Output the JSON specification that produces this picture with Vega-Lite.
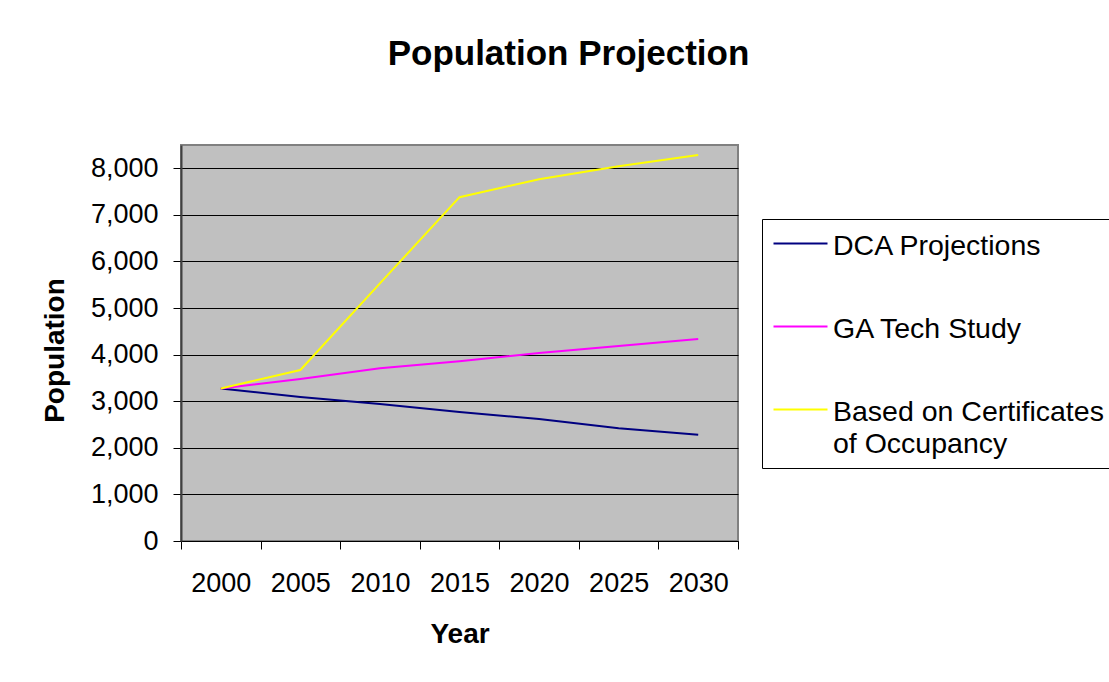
{
  "$schema": "https://vega.github.io/schema/vega-lite/v6.json",
  "width": 557,
  "height": 396,
  "autosize": {"type": "none"},
  "padding": {"left": 181, "top": 145, "right": 371, "bottom": 141},
  "background": "white",
  "title": {"text": "Population Projection", "fontSize": 35, "font": "Liberation Sans", "fontWeight": "bold", "anchor": "middle", "dx": 109, "baseline": "alphabetic", "offset": 45, "color": "black"},
  "data": {"values": [
    {"Year": 2000, "Series": "DCA Projections", "Population": 3275},
    {"Year": 2005, "Series": "DCA Projections", "Population": 3090},
    {"Year": 2010, "Series": "DCA Projections", "Population": 2940},
    {"Year": 2015, "Series": "DCA Projections", "Population": 2770},
    {"Year": 2020, "Series": "DCA Projections", "Population": 2620},
    {"Year": 2025, "Series": "DCA Projections", "Population": 2420},
    {"Year": 2030, "Series": "DCA Projections", "Population": 2280},
    {"Year": 2000, "Series": "GA Tech Study", "Population": 3275},
    {"Year": 2005, "Series": "GA Tech Study", "Population": 3475},
    {"Year": 2010, "Series": "GA Tech Study", "Population": 3710},
    {"Year": 2015, "Series": "GA Tech Study", "Population": 3860},
    {"Year": 2020, "Series": "GA Tech Study", "Population": 4035},
    {"Year": 2025, "Series": "GA Tech Study", "Population": 4185},
    {"Year": 2030, "Series": "GA Tech Study", "Population": 4335},
    {"Year": 2000, "Series": "Based on Certificates of Occupancy", "Population": 3275},
    {"Year": 2005, "Series": "Based on Certificates of Occupancy", "Population": 3670},
    {"Year": 2010, "Series": "Based on Certificates of Occupancy", "Population": 5530},
    {"Year": 2015, "Series": "Based on Certificates of Occupancy", "Population": 7380},
    {"Year": 2020, "Series": "Based on Certificates of Occupancy", "Population": 7765},
    {"Year": 2025, "Series": "Based on Certificates of Occupancy", "Population": 8045},
    {"Year": 2030, "Series": "Based on Certificates of Occupancy", "Population": 8285}
  ]},
  "mark": {"type": "line", "strokeWidth": 2},
  "encoding": {
    "x": {
      "field": "Year", "type": "ordinal",
      "scale": {"type": "band", "paddingInner": 0, "paddingOuter": 0},
      "bandPosition": 0.5,
      "axis": {
        "title": "Year", "tickBand": "extent", "tickSize": 8, "tickColor": "black", "domainColor": "black", "domainWidth": 1,
        "labelFontSize": 27, "labelFont": "Liberation Sans", "labelColor": "black", "labelAngle": 0, "labelPadding": 21,
        "titleFont": "Liberation Sans", "titleFontSize": 28, "titleFontWeight": "bold", "titleColor": "black", "titlePadding": 24,
        "grid": false
      }
    },
    "y": {
      "field": "Population", "type": "quantitative",
      "scale": {"domain": [0, 8500], "nice": false},
      "axis": {
        "title": "Population", "values": [0, 1000, 2000, 3000, 4000, 5000, 6000, 7000, 8000], "format": ",.0f",
        "grid": true, "gridColor": "black", "gridWidth": 1, "gridOpacity": 1,
        "tickSize": 8, "tickColor": "black", "domainColor": "#404040", "domainWidth": 2,
        "labelFontSize": 27, "labelFont": "Liberation Sans", "labelColor": "black", "labelPadding": 15,
        "titleFont": "Liberation Sans", "titleFontSize": 28, "titleFontWeight": "bold", "titleColor": "black", "titlePadding": 21, "titleY": 205
      }
    },
    "color": {
      "field": "Series", "type": "nominal",
      "scale": {"domain": ["DCA Projections", "GA Tech Study", "Based on Certificates of Occupancy"], "range": ["#000080", "#FF00FF", "#FFFF00"]},
      "legend": {
        "orient": "none", "legendX": 581, "legendY": 74, "title": null,
        "symbolType": "M-2,0H2", "symbolSize": 729, "symbolStrokeWidth": 2, "symbolOffset": 14,
        "labelFontSize": 28.5, "labelFont": "Liberation Sans", "labelColor": "black", "labelOffset": 18, "labelLimit": 500,
        "labelBaseline": "alphabetic",
        "labelExpr": "datum.label == 'Based on Certificates of Occupancy' ? ['Based on Certificates', 'of Occupancy'] : datum.label",
        "strokeColor": "black", "fillColor": "white", "padding": 10, "rowPadding": 52,
        "encode": {"labels": {"update": {"dy": {"value": 11}, "lineHeight": {"value": 32}}}}
      }
    }
  },
  "config": {"view": {"fill": "#C0C0C0", "stroke": "#808080", "strokeWidth": 2}}
}
